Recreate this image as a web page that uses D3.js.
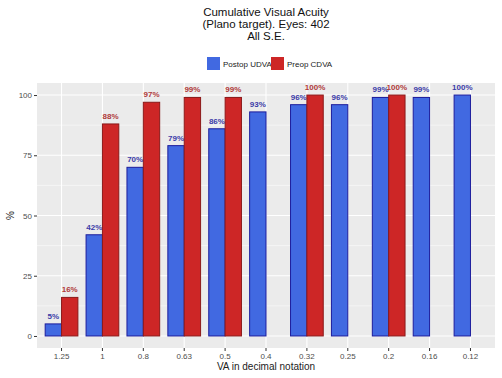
<!DOCTYPE html>
<html><head><meta charset="utf-8">
<script src="https://cdn.jsdelivr.net/npm/d3@7"></script>
<style>body{margin:0;background:#fff}svg{display:block;font-family:"Liberation Sans",Arial,sans-serif}</style>
</head><body><svg id="c" width="502" height="378"></svg>
<script>
const categories = ["1.25","1","0.8","0.63","0.5","0.4","0.32","0.25","0.2","0.16","0.12"];
const postopUDVA = [5,42,70,79,86,93,96,96,99,99,100];
const preopCDVA  = [16,88,97,99,99,null,100,null,100,null,null];
const seriesNames = ["Postop UDVA","Preop CDVA"];
const yTicks = [0,25,50,75,100];
const titleLines = ["Cumulative Visual Acuity","(Plano target). Eyes: 402","All S.E."];

const svg = d3.select("#c");
const L=37,R=495,T=83,B=348;
const fills=["#4169E1","#CD2626"], strokes=["#1c1c9c","#8b1a1a"], labCols=["#3b3ba8","#b03a3a"];

const x = d3.scaleBand().domain(categories).paddingOuter(0).paddingInner(0);
const step=(R-L)/(categories.length-1+1.2);
x.range([L+0.6*step-step/2, R-0.6*step+step/2]);
const y = d3.scaleLinear().domain([-5,105]).range([B,T]);

svg.append("rect").attr("x",L).attr("y",T).attr("width",R-L).attr("height",B-T).attr("fill","#EBEBEB");
[12.5,37.5,62.5,87.5].forEach(v=>svg.append("line").attr("x1",L).attr("x2",R).attr("y1",y(v)).attr("y2",y(v)).attr("stroke","#fff").attr("stroke-width",0.5));
yTicks.forEach(v=>svg.append("line").attr("x1",L).attr("x2",R).attr("y1",y(v)).attr("y2",y(v)).attr("stroke","#fff").attr("stroke-width",1.1));
categories.forEach(c=>svg.append("line").attr("y1",T).attr("y2",B).attr("x1",x(c)+x.bandwidth()/2).attr("x2",x(c)+x.bandwidth()/2).attr("stroke","#fff").attr("stroke-width",1.1));

const sub = d3.scaleBand().domain([0,1]).range([-0.4*step,0.4*step]);
const series=[postopUDVA,preopCDVA];
series.forEach((vals,si)=>{
  const g=svg.append("g");
  vals.forEach((v,i)=>{
    if(v==null) return;
    const cx=x(categories[i])+x.bandwidth()/2+sub(si);
    g.append("rect").attr("x",cx).attr("width",sub.bandwidth()).attr("y",y(v)).attr("height",y(0)-y(v))
      .attr("fill",fills[si]).attr("stroke",strokes[si]).attr("stroke-width",1);
    g.append("text").attr("x",cx+sub.bandwidth()/2).attr("y",y(v)-5).attr("text-anchor","middle")
      .attr("font-size",8).attr("font-weight","bold").attr("fill",labCols[si]).text(v+"%");
  });
});

const ya=svg.append("g").attr("transform",`translate(${L},0)`).call(d3.axisLeft(y).tickValues(yTicks).tickSize(3).tickPadding(2));
ya.select(".domain").remove();
ya.selectAll("line").attr("stroke","#333");
ya.selectAll("text").attr("font-size",8).attr("fill","#4D4D4D").attr("font-family","Liberation Sans, Arial, sans-serif");
const xa=svg.append("g").attr("transform",`translate(0,${B})`).call(d3.axisBottom(x).tickSize(3).tickPadding(2));
xa.select(".domain").remove();
xa.selectAll("line").attr("stroke","#333");
xa.selectAll("text").attr("font-size",8).attr("fill","#4D4D4D").attr("font-family","Liberation Sans, Arial, sans-serif");

svg.append("text").attr("x",(L+R)/2).attr("y",370).attr("text-anchor","middle").attr("font-size",10).attr("fill","#222").text("VA in decimal notation");
svg.append("text").attr("transform",`translate(14,${(T+B)/2}) rotate(-90)`).attr("text-anchor","middle").attr("font-size",10).attr("fill","#222").text("%");

titleLines.forEach((t,i)=>svg.append("text").attr("x",(L+R)/2).attr("y",16+i*12).attr("text-anchor","middle").attr("font-size",11.5).attr("fill","#111").text(t));

const lg=svg.append("g");
const keyX=[207,271], txtX=[223,287];
seriesNames.forEach((n,i)=>{
  lg.append("rect").attr("x",keyX[i]).attr("y",57).attr("width",13).attr("height",13).attr("fill",fills[i]);
  lg.append("text").attr("x",txtX[i]).attr("y",67).attr("font-size",8).attr("fill","#222").text(n);
});
</script></body></html>
